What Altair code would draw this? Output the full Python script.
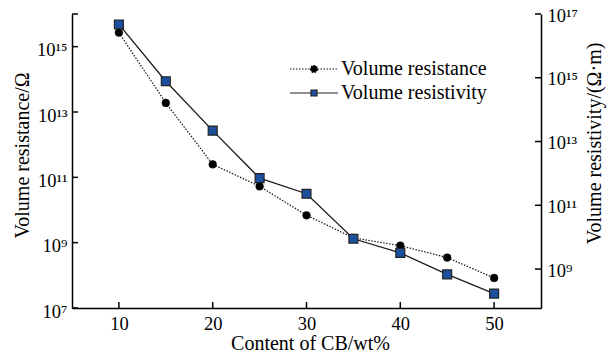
import math
import altair as alt
import pandas as pd

content = [10, 15, 20, 25, 30, 35, 40, 45, 50]
resistance = [2.7e15, 1.9e13, 2.5e11, 5.3e10, 6.9e9, 1.4e9, 8.1e8, 3.5e8, 8.3e7]
resistivity = [4.7e16, 7.8e14, 2.2e13, 7.1e11, 2.3e11, 8.9e9, 3.2e9, 6.8e8, 1.7e8]

name_res = "Volume resistance"
name_rv = "\u00a0\u00a0Volume resistivity"

left_ticks = [1e7, 1e9, 1e11, 1e13, 1e15, 1e16]
left_labels = ["10\u2077", "10\u2079", "10\u00b9\u00b9", "10\u00b9\u00b3", "10\u00b9\u2075", ""]
right_ticks = [1e9, 1e11, 1e13, 1e15, 1e17]
right_labels = ["10\u2079", "10\u00b9\u00b9", "10\u00b9\u00b3", "10\u00b9\u2075", "10\u00b9\u2077"]
x_ticks = [10, 20, 30, 40, 50]

df_res = pd.DataFrame({"x": content, "y": resistance, "series": name_res})
df_rv = pd.DataFrame({"x": content, "y": resistivity, "series": name_rv})
df_xt = pd.DataFrame({"v": x_ticks})
df_lt = pd.DataFrame({"v": left_ticks})
df_rt = pd.DataFrame({"v": right_ticks})

FONT = "Liberation Serif"
W, H, TICK_LEN = 469, 294, 6


def label_expr(vals, labs):
    parts = []
    for v, l in zip(vals, labs):
        parts.append(f"abs(log(datum.value)/LN10 - {round(math.log10(v))}) < 0.01 ? '{l}' : ")
    return "".join(parts) + "''"


xscale = alt.Scale(domain=[5, 55], nice=False, zero=False)
xaxis = alt.Axis(values=x_ticks, title="Content of CB/wt%", grid=False, ticks=False,
                 labelPadding=6, titleX=238, titleY=41.5, titleBaseline="alphabetic",
                 titleAlign="center", titleAnchor="middle")

yl_scale = alt.Scale(type="log", domain=[1e7, 1e16], nice=False)
yl_axis = alt.Axis(values=left_ticks, labelExpr=label_expr(left_ticks, left_labels),
                   title="Volume resistance/\u03a9", grid=False, orient="left", ticks=False,
                   labelPadding=5, labelOffset=3,
                   titleX=-50, titleY=141, titleAngle=270, titleBaseline="middle",
                   titleAlign="center", titleAnchor="middle")

yr_scale = alt.Scale(type="log", domain=[6e7, 1e17], nice=False)
yr_axis = alt.Axis(values=right_ticks, labelExpr=label_expr(right_ticks, right_labels),
                   title="Volume resistivity/(\u03a9\u00b7m)", grid=False, orient="right", ticks=False,
                   labelPadding=6, labelOffset=1,
                   titleX=53, titleY=129, titleAngle=270, titleBaseline="middle",
                   titleAlign="center", titleAnchor="middle")

BLUE = "#1d4f9f"

circ_path = ("M-2.4,0H-0.35M0.35,0H2.4M-0.35,0A0.35,0.35 0 1,0 0.35,0"
             "A0.35,0.35 0 1,0 -0.35,0Z")
sq_path = "M-2.4,0H-0.3M0.3,0H2.4M-0.3,-0.3H0.3V0.3H-0.3Z"

leg_common = dict(title=None, orient="none", padding=0, labelFont=FONT, labelFontSize=20,
                  labelColor="black", labelOffset=16, symbolSize=400, symbolStrokeWidth=1.2,
                  symbolOpacity=1)
legend_res = alt.Legend(legendX=231, legendY=44, symbolType=circ_path, symbolDash=[1.5, 1.5],
                        symbolStrokeColor="#111111", symbolFillColor="#000000", **leg_common)
legend_rv = alt.Legend(legendX=231, legendY=68, symbolType=sq_path,
                       symbolStrokeColor="#111111", symbolFillColor=BLUE, **leg_common)

# inward tick marks, placed along each axis by its own scale
x_tick_marks = alt.Chart(df_xt).mark_rule(color="black", strokeWidth=1.5).encode(
    x=alt.X("v:Q", scale=xscale, axis=xaxis),
    y=alt.value(H - TICK_LEN), y2=alt.value(H),
)
l_tick_marks = alt.Chart(df_lt).mark_rule(color="black", strokeWidth=1.5).encode(
    y=alt.Y("v:Q", scale=yl_scale, axis=yl_axis),
    x=alt.value(0), x2=alt.value(TICK_LEN),
)
r_tick_marks = alt.Chart(df_rt).mark_rule(color="black", strokeWidth=1.5).encode(
    y=alt.Y("v:Q", scale=yr_scale, axis=yr_axis),
    x=alt.value(W - TICK_LEN), x2=alt.value(W),
)

line_res = alt.Chart(df_res).mark_line(color="#222222", strokeWidth=1.3, strokeDash=[1.5, 1.5]).encode(
    x=alt.X("x:Q", scale=xscale, axis=xaxis),
    y=alt.Y("y:Q", scale=yl_scale, axis=yl_axis),
)
pts_res = alt.Chart(df_res).mark_point(filled=True, size=60, opacity=1, shape="circle",
                                      stroke="#000000", strokeWidth=0.5).encode(
    x=alt.X("x:Q", scale=xscale, axis=xaxis),
    y=alt.Y("y:Q", scale=yl_scale, axis=yl_axis),
    fill=alt.Fill("series:N", scale=alt.Scale(domain=[name_res], range=["#000000"]), legend=legend_res),
)
line_rv = alt.Chart(df_rv).mark_line(color="#231815", strokeWidth=1.3).encode(
    x=alt.X("x:Q", scale=xscale, axis=xaxis),
    y=alt.Y("y:Q", scale=yr_scale, axis=yr_axis),
)
pts_rv = alt.Chart(df_rv).mark_point(filled=True, size=80, opacity=1, shape="square",
                                     fill=BLUE, strokeWidth=1.2).encode(
    x=alt.X("x:Q", scale=xscale, axis=xaxis),
    y=alt.Y("y:Q", scale=yr_scale, axis=yr_axis),
    stroke=alt.Stroke("series:N", scale=alt.Scale(domain=[name_rv], range=["#222222"]), legend=legend_rv),
)

left_group = alt.layer(x_tick_marks, l_tick_marks, line_res, pts_res)
right_group = alt.layer(r_tick_marks, line_rv, pts_rv)

chart = alt.layer(left_group, right_group).resolve_scale(y="independent").properties(
    width=W, height=H,
    autosize=alt.AutoSizeParams(type="none"),
    padding={"left": 72, "top": 14, "right": 67, "bottom": 46},
).configure_view(stroke=None).configure_axis(
    labelFont=FONT, labelFontSize=18.5, labelColor="black",
    titleFont=FONT, titleFontSize=20, titleColor="black", titleFontWeight="normal",
    domainColor="black", domainWidth=1.5,
)

chart.save("out.html", embed_options={"renderer": "svg", "actions": False})
